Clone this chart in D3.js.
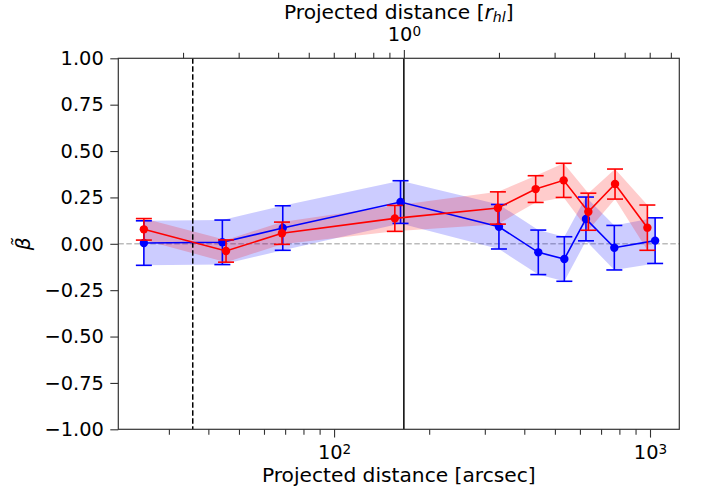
<!DOCTYPE html>
<html><head><meta charset="utf-8">
<script src="https://cdn.jsdelivr.net/npm/d3@7"></script>
<style>body{margin:0;background:#fff} text{font-family:"DejaVu Sans",sans-serif}</style>
</head><body><svg id="c" width="702" height="490"></svg>
<script>
const blueX=[25.0,44.3,68.8,162.3,332.5,443,535.6,627,771,1038];
const blueY=[0.004,0.008,0.085,0.225,0.092,-0.046,-0.082,0.134,-0.021,0.017];
const blueErr=[0.12,0.12,0.12,0.115,0.12,0.12,0.12,0.118,0.12,0.123];
const redX=[25.0,45.5,68.4,155.7,330,434.6,533,638,775,981];
const redY=[0.078,-0.039,0.057,0.137,0.193,0.295,0.342,0.173,0.322,0.087];
const redErr=[0.058,0.06,0.06,0.07,0.087,0.072,0.092,0.1,0.081,0.122];
const yTicks=[-1,-0.75,-0.5,-0.25,0,0.25,0.5,0.75,1];
const xMajor=[100,1000];
const xMinor=[30,40,50,60,70,80,90,200,300,400,500,600,700,800,900];
const topMajor=[1];
const topMinor=[0.2,0.3,0.4,0.5,0.6,0.7,0.8,0.9,2,3,4,5,6,7];
const rHalf=166.3, rInner=35.7;
const xDomain=[20.75,1238], yDomain=[-1,1];

const L=118.3,R=679.3,T=58.3,B=429.3;
const svg=d3.select("#c");
const x=d3.scaleLog().domain(xDomain).range([L,R]);
const xt=d3.scaleLog().domain([xDomain[0]/rHalf,xDomain[1]/rHalf]).range([L,R]);
const y=d3.scaleLinear().domain(yDomain).range([B,T]);
const FS=19.4, LFS=20.2, axC="#333";

// zero line
svg.append("line").attr("x1",L).attr("x2",R).attr("y1",y(0)).attr("y2",y(0))
  .attr("stroke","#bbb").attr("stroke-width",1.4).attr("stroke-dasharray","5.5,2.5");

function band(xs,ys,es,col){
  const d=xs.map((v,i)=>({x:v,y:ys[i],e:es[i]}));
  svg.append("path").datum(d).attr("fill",col).attr("fill-opacity",0.2)
    .attr("d",d3.area().x(p=>x(p.x)).y0(p=>y(p.y-p.e)).y1(p=>y(p.y+p.e)));
}
band(blueX,blueY,blueErr,"blue");
band(redX,redY,redErr,"red");

// vertical lines
svg.append("line").attr("x1",x(rInner)).attr("x2",x(rInner)).attr("y1",T).attr("y2",B)
  .attr("stroke","#000").attr("stroke-width",1.5).attr("stroke-dasharray","5.5,2.5");
svg.append("line").attr("x1",x(rHalf)).attr("x2",x(rHalf)).attr("y1",T).attr("y2",B)
  .attr("stroke","#000").attr("stroke-width",1.5);

function series(xs,ys,es,col){
  const d=xs.map((v,i)=>({x:v,y:ys[i],e:es[i]}));
  const g=svg.append("g");
  g.append("path").datum(d).attr("fill","none").attr("stroke",col).attr("stroke-width",1.6)
    .attr("d",d3.line().x(p=>x(p.x)).y(p=>y(p.y)));
  d.forEach(p=>{
    const cx=x(p.x);
    g.append("line").attr("x1",cx).attr("x2",cx).attr("y1",y(p.y-p.e)).attr("y2",y(p.y+p.e))
      .attr("stroke",col).attr("stroke-width",1.6);
    [p.y-p.e,p.y+p.e].forEach(v=>g.append("line").attr("x1",cx-8).attr("x2",cx+8)
      .attr("y1",y(v)).attr("y2",y(v)).attr("stroke",col).attr("stroke-width",1.6));
  });
  g.selectAll("circle").data(d).enter().append("circle")
    .attr("cx",p=>x(p.x)).attr("cy",p=>y(p.y)).attr("r",4.2).attr("fill",col);
}
series(blueX,blueY,blueErr,"blue");
series(redX,redY,redErr,"red");

// frame
svg.append("rect").attr("x",L).attr("y",T).attr("width",R-L).attr("height",B-T)
  .attr("fill","none").attr("stroke",axC).attr("stroke-width",1.2);

function sup(sel,base,exp){
  sel.text(null);
  sel.append("tspan").text(base);
  sel.append("tspan").attr("dy","-0.38em").attr("font-size","70%").text(exp);
}

// bottom axis
const gb=svg.append("g").attr("transform",`translate(0,${B})`);
gb.call(d3.axisBottom(x).tickValues(xMinor).tickSize(5.5).tickFormat(""));
const gbM=svg.append("g").attr("transform",`translate(0,${B})`);
gbM.call(d3.axisBottom(x).tickValues(xMajor).tickSize(8.3).tickPadding(4).tickFormat(d=>d));
gbM.selectAll(".tick text").each(function(d){sup(d3.select(this),"10",String(Math.round(Math.log10(d))));})
  .attr("font-size",FS).attr("fill","#000").attr("font-family","DejaVu Sans")
  .attr("dy",null).attr("y",30);

// top axis
const gt=svg.append("g").attr("transform",`translate(0,${T})`);
gt.call(d3.axisTop(xt).tickValues(topMinor).tickSize(5.5).tickFormat(""));
const gtM=svg.append("g").attr("transform",`translate(0,${T})`);
gtM.call(d3.axisTop(xt).tickValues(topMajor).tickSize(8.3).tickPadding(4).tickFormat(d=>d));
gtM.selectAll(".tick text").each(function(d){sup(d3.select(this),"10",String(Math.round(Math.log10(d))));})
  .attr("font-size",FS).attr("fill","#000").attr("font-family","DejaVu Sans")
  .attr("dy",null).attr("y",-17.2);

// left axis
const gl=svg.append("g").attr("transform",`translate(${L},0)`);
gl.call(d3.axisLeft(y).tickValues(yTicks).tickSize(8).tickPadding(6)
  .tickFormat(d=>d3.format(".2f")(d).replace("-","\u2212")));
gl.selectAll(".tick text").attr("font-size",FS).attr("fill","#000").attr("font-family","DejaVu Sans")
  .attr("x",-14.5);

svg.selectAll(".domain").remove();
svg.selectAll(".tick line").attr("stroke",axC).attr("stroke-width",1.1);

// labels
svg.append("text").attr("x",(L+R)/2).attr("y",482).attr("text-anchor","middle")
  .attr("font-size",LFS).text("Projected distance [arcsec]");
const tt=svg.append("text").attr("x",(L+R)/2).attr("y",19).attr("text-anchor","middle").attr("font-size",LFS);
tt.append("tspan").text("Projected distance [");
tt.append("tspan").attr("font-style","italic").text("r");
tt.append("tspan").attr("font-style","italic").attr("font-size","70%").attr("dy","0.22em").text("hl");
tt.append("tspan").attr("dy","-0.15em").text("]");
svg.append("text").attr("transform",`translate(30,${y(0)}) rotate(-90)`).attr("text-anchor","middle")
  .attr("font-size",LFS).attr("font-style","italic").text("\u03B2\u0303");
</script></body></html>
